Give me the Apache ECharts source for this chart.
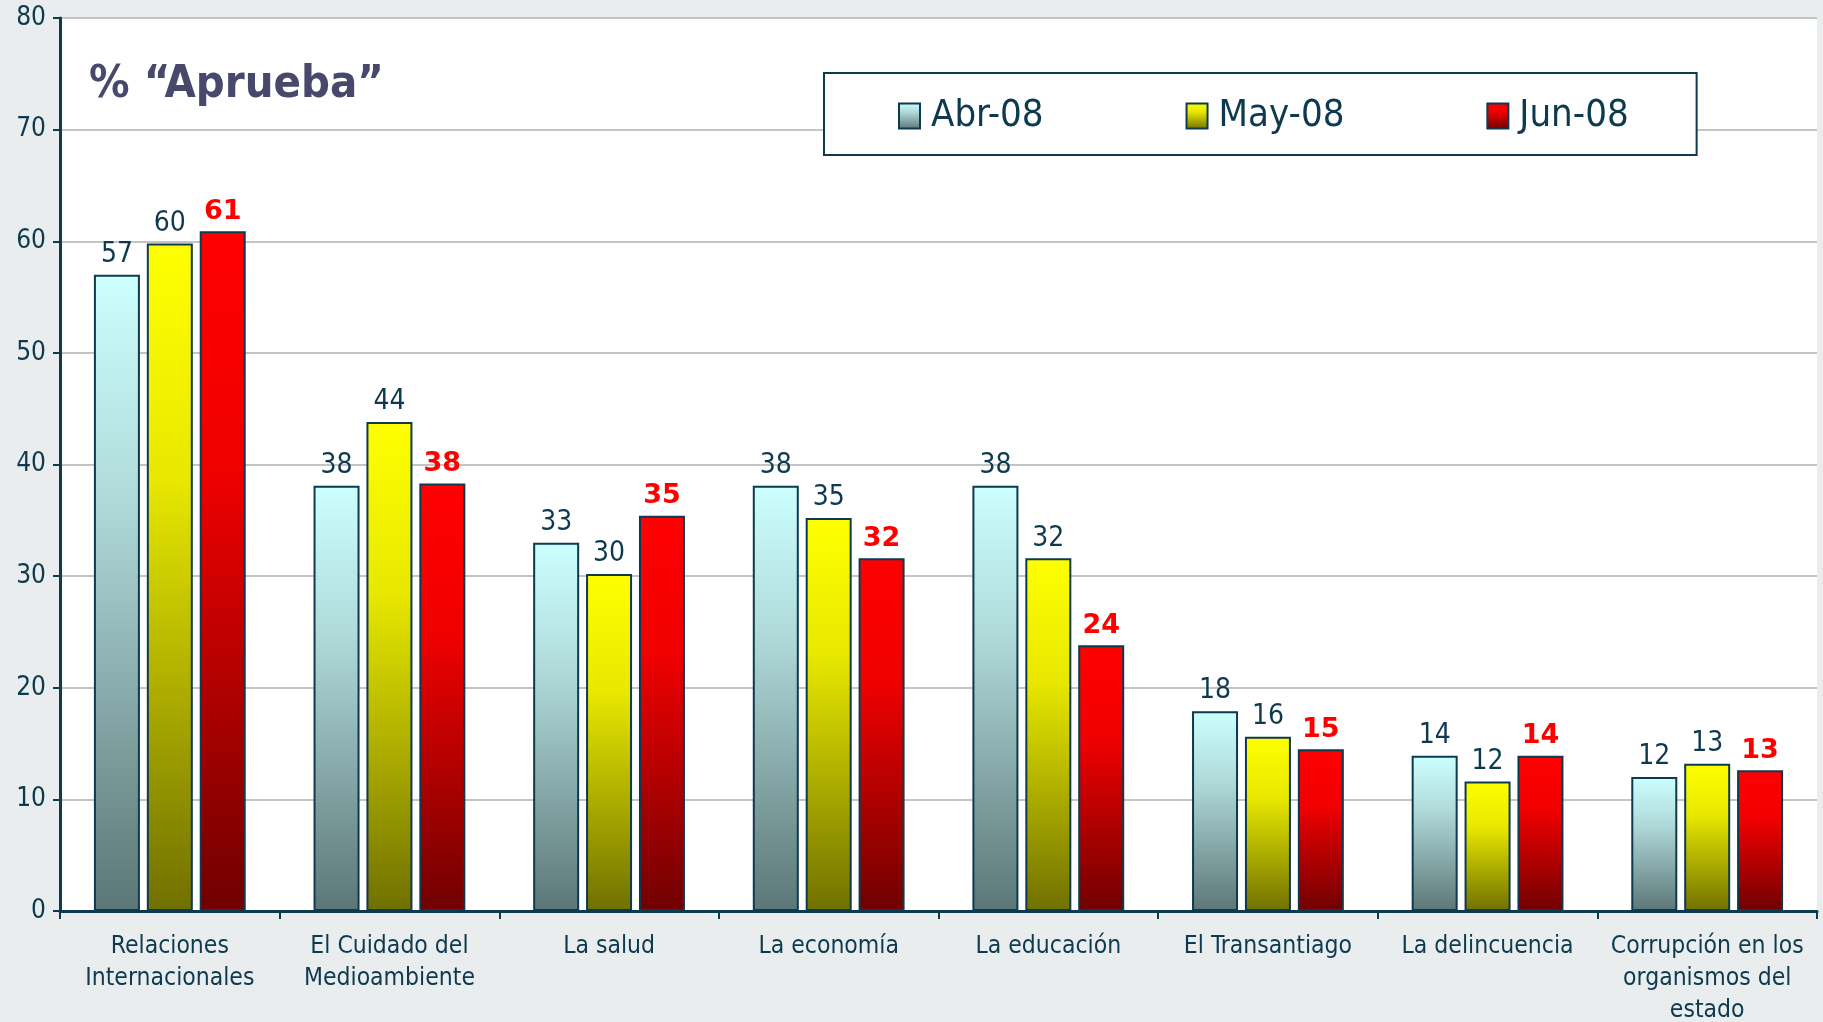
<!DOCTYPE html>
<html>
<head>
<meta charset="utf-8">
<script src="https://cdn.jsdelivr.net/npm/echarts@6/dist/echarts.min.js"></script>
<style>
  html, body { margin: 0; padding: 0; background: #e9edee; }
  #chart { width: 1823px; height: 1022px; }
</style>
</head>
<body>
<div id="chart"></div>
<script>
// categorias y valores
const categories = [
  'Relaciones\nInternacionales',
  'El Cuidado del\nMedioambiente',
  'La salud',
  'La economía',
  'La educación',
  'El Transantiago',
  'La delincuencia',
  'Corrupción en los\norganismos del\nestado'
]
const seriesNames = ['Abr-08', 'May-08', 'Jun-08']
const abr08 = [57.0, 38.1, 33.0, 38.1, 38.1, 17.9, 13.9, 12.0]
const may08 = [59.8, 43.8, 30.2, 35.2, 31.6, 15.6, 11.6, 13.2]
const jun08 = [60.9, 38.3, 35.4, 31.6, 23.8, 14.5, 13.9, 12.6]
const yTicks = { min: 0, max: 80, interval: 10 }

const dark = '#0d3a4f'
const font = 'DejaVu Sans Condensed, DejaVu Sans, sans-serif'

function grad(top, mid, bottom) {
  return new echarts.graphic.LinearGradient(0, 0, 0, 1, [
    { offset: 0, color: top },
    { offset: 0.35, color: mid },
    { offset: 1, color: bottom }
  ])
}

const chart = echarts.init(document.getElementById('chart'))

const labelNormal = {
  show: true,
  position: 'top',
  distance: 6,
  color: dark,
  fontFamily: font,
  fontSize: 28,
  formatter: p => Math.round(p.value)
}

chart.setOption({
  backgroundColor: '#e9edee',
  animation: false,
  graphic: [{
    type: 'text',
    left: 89,
    top: 63,
    style: {
      text: '% “Aprueba”',
      fill: '#48486c',
      font: 'bold 45px DejaVu Sans Condensed, DejaVu Sans, sans-serif'
    }
  }],
  legend: {
    data: seriesNames,
    icon: 'rect',
    left: 824,
    top: 73,
    orient: 'horizontal',
    padding: [24, 68, 20, 74],
    borderColor: dark,
    borderWidth: 2,
    backgroundColor: '#fff',
    itemWidth: 21,
    itemHeight: 25,
    itemGap: 142,
    itemStyle: { borderColor: dark, borderWidth: 2 },
    textStyle: { color: dark, fontFamily: font, fontSize: 38, padding: [0, 0, 0, 6] }
  },
  grid: {
    left: 60,
    right: 6,
    top: 18,
    bottom: 111,
    outerBoundsMode: 'none',
    show: true,
    backgroundColor: '#fff',
    borderWidth: 0
  },
  xAxis: {
    type: 'category',
    data: categories,
    axisLine: { lineStyle: { color: dark, width: 3 } },
    axisTick: { show: true, length: 8, lineStyle: { color: dark, width: 2 } },
    axisLabel: {
      color: dark,
      fontFamily: font,
      fontSize: 24.5,
      lineHeight: 32,
      margin: 20,
      interval: 0
    }
  },
  yAxis: {
    type: 'value',
    min: yTicks.min,
    max: yTicks.max,
    interval: yTicks.interval,
    axisLine: { show: true, lineStyle: { color: dark, width: 3 } },
    axisTick: { show: true, length: 7, lineStyle: { color: dark, width: 2 } },
    axisLabel: { color: dark, fontFamily: font, fontSize: 26, margin: 14 },
    splitLine: { lineStyle: { color: '#c4c4c4', width: 2 } }
  },
  series: [
    {
      name: 'Abr-08',
      type: 'bar',
      data: abr08,
      barWidth: 46,
      barGap: '15%',
      itemStyle: { color: grad('#ccffff', '#b0dada', '#5c7676'), borderColor: dark, borderWidth: 2 },
      label: labelNormal
    },
    {
      name: 'May-08',
      type: 'bar',
      data: may08,
      barWidth: 46,
      itemStyle: { color: grad('#ffff00', '#e8e800', '#707000'), borderColor: dark, borderWidth: 2 },
      label: labelNormal
    },
    {
      name: 'Jun-08',
      type: 'bar',
      data: jun08,
      barWidth: 46,
      itemStyle: { color: grad('#ff0000', '#f00000', '#700000'), borderColor: dark, borderWidth: 2 },
      label: Object.assign({}, labelNormal, { color: '#ff0000', fontWeight: 'bold', fontFamily: 'DejaVu Sans, sans-serif', fontSize: 27 })
    }
  ]
})
window.addEventListener('resize', () => chart.resize())
</script>
</body>
</html>
